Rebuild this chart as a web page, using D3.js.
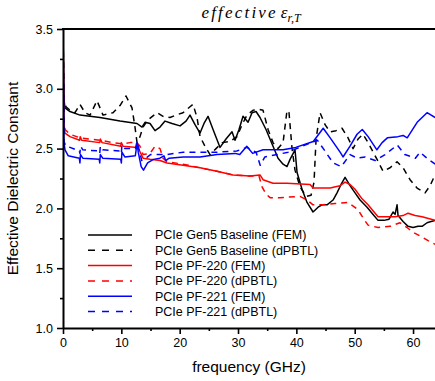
<!DOCTYPE html>
<html>
<head>
<meta charset="utf-8">
<title>effective er,T</title>
<script src="https://d3js.org/d3.v7.min.js"></script>
<style>
  html, body { margin: 0; padding: 0; background: #fff; }
  svg { display: block; }
  .tick text { font-family: "Liberation Sans", Arial, sans-serif; font-size: 12.5px; fill: #000; }
</style>
</head>
<body>
<div id="chart"></div>
<script>
// --- data: [frequency GHz, effective Dk]
const gen5Fem = [[0,3.5],[0.17,2.91],[0.34,2.84],[1.2,2.81],[2.91,2.78],[6.34,2.76],[9.77,2.73],[12.69,2.71],[13.54,2.68],[14.06,2.72],[14.92,2.71],[15.77,2.65],[16.63,2.68],[17.49,2.73],[18.69,2.71],[20.06,2.69],[21.09,2.73],[21.77,2.78],[22.63,2.70],[23.49,2.63],[24.17,2.71],[24.86,2.77],[25.72,2.66],[26.92,2.51],[27.94,2.58],[28.97,2.64],[29.49,2.57],[30.17,2.66],[30.86,2.77],[31.72,2.72],[32.4,2.80],[33.09,2.81],[33.77,2.76],[34.8,2.66],[36.0,2.52],[36.86,2.42],[37.72,2.37],[38.4,2.35],[38.92,2.41],[39.77,2.49],[40.12,2.30],[40.97,2.16],[41.83,2.05],[42.86,1.97],[43.72,2.01],[44.4,2.03],[45.26,2.03],[46.29,2.07],[46.97,2.13],[47.66,2.20],[48.35,2.26],[49.2,2.19],[50.06,2.13],[50.92,2.07],[52.12,2.01],[52.97,1.96],[54.0,1.90],[55.03,1.90],[55.89,1.91],[56.57,1.97],[56.92,1.95],[57.26,2.03],[57.43,1.94],[58.29,1.89],[59.15,1.85],[60.0,1.84],[60.86,1.85],[61.55,1.85],[62.4,1.88],[63.09,1.89],[63.77,1.90]];

const gen5Dpbtl = [[0,3.5],[0.17,2.91],[0.51,2.85],[1.2,2.82],[2.06,2.80],[2.91,2.87],[3.77,2.80],[4.63,2.78],[5.83,2.90],[6.86,2.78],[7.71,2.79],[8.57,2.80],[9.77,2.86],[10.8,2.94],[11.83,2.84],[12.34,2.68],[12.69,2.55],[13.2,2.60],[13.72,2.68],[14.57,2.74],[16.12,2.80],[17.14,2.77],[18.34,2.76],[19.37,2.78],[20.57,2.80],[21.77,2.85],[22.29,2.87],[22.97,2.76],[23.49,2.60],[24.34,2.52],[25.2,2.45],[26.23,2.50],[27.26,2.55],[28.63,2.56],[29.83,2.60],[30.69,2.70],[31.54,2.78],[32.57,2.82],[33.43,2.83],[34.29,2.82],[35.15,2.66],[36.0,2.55],[36.86,2.50],[37.72,2.55],[38.4,2.82],[38.74,2.80],[39.26,2.50],[39.77,2.32],[40.63,2.18],[41.66,2.10],[42.52,2.11],[43.03,2.22],[43.38,2.58],[44.06,2.80],[44.92,2.70],[45.78,2.64],[46.8,2.65],[47.83,2.67],[48.86,2.59],[49.72,2.50],[50.57,2.58],[51.43,2.62],[52.29,2.55],[53.83,2.41],[54.86,2.31],[56.06,2.34],[57.26,2.39],[58.29,2.34],[59.49,2.24],[60.69,2.17],[62.06,2.13],[62.92,2.19],[63.77,2.28]];

const pf220Fem = [[0,3.5],[0.17,2.70],[0.34,2.63],[1.2,2.60],[2.85,2.57],[2.95,2.60],[3.2,2.57],[6.3,2.55],[6.4,2.58],[6.7,2.55],[9.9,2.52],[10.0,2.55],[10.3,2.52],[12.69,2.51],[13.03,2.49],[13.72,2.42],[14.92,2.41],[16.63,2.40],[17.83,2.38],[20.57,2.36],[23.49,2.34],[26.4,2.31],[29.14,2.28],[32.06,2.27],[33.77,2.28],[34.29,2.24],[36.0,2.21],[38.4,2.21],[42.35,2.20],[42.86,2.17],[45.78,2.17],[47.49,2.19],[48.35,2.22],[49.2,2.20],[50.06,2.16],[51.26,2.08],[52.29,2.03],[53.14,1.98],[54.0,1.93],[55.55,1.93],[56.92,1.93],[58.29,1.94],[59.15,1.96],[60.35,1.94],[61.55,1.93],[63.77,1.90]];

const pf220Dpbtl = [[0,3.5],[0.17,2.72],[0.34,2.66],[1.2,2.62],[2.91,2.59],[6.34,2.57],[8.57,2.55],[10.29,2.54],[11.49,2.55],[12.69,2.55],[13.2,2.52],[13.72,2.45],[14.92,2.46],[15.77,2.52],[16.63,2.50],[17.14,2.42],[17.83,2.39],[20.57,2.37],[23.49,2.34],[26.4,2.31],[29.14,2.28],[32.06,2.27],[33.6,2.27],[34.12,2.18],[34.8,2.12],[35.49,2.09],[37.2,2.09],[40.63,2.10],[41.83,2.07],[42.86,2.03],[44.57,2.03],[46.63,2.04],[48.86,2.05],[50.57,1.99],[51.43,1.92],[52.29,1.86],[54.0,1.84],[56.06,1.85],[57.77,1.88],[58.97,1.84],[60.0,1.80],[61.55,1.76],[62.58,1.73],[63.77,1.70]];

const pf221Fem = [[0,3.5],[0.17,2.55],[0.34,2.49],[0.9,2.44],[2.8,2.42],[2.9,2.38],[3.0,2.45],[3.4,2.42],[6.2,2.41],[6.3,2.38],[6.4,2.45],[6.8,2.42],[9.9,2.41],[10.0,2.38],[10.1,2.47],[10.6,2.43],[12.4,2.44],[12.7,2.55],[12.9,2.47],[13.4,2.35],[13.8,2.32],[14.5,2.38],[15.5,2.41],[16.6,2.42],[17.3,2.44],[17.6,2.40],[18.2,2.42],[20.6,2.43],[23.5,2.43],[26.4,2.45],[29.5,2.46],[30.3,2.45],[31.5,2.52],[32.5,2.46],[34.3,2.49],[37.7,2.49],[39.9,2.51],[42.9,2.56],[44.6,2.67],[45.8,2.59],[47.5,2.47],[48.0,2.43],[49.2,2.52],[50.4,2.62],[51.3,2.66],[52.3,2.60],[53.8,2.49],[54.7,2.55],[55.6,2.59],[57.4,2.60],[58.3,2.61],[59.0,2.59],[60.7,2.72],[62.4,2.80],[63.8,2.76]];

const pf221Dpbtl = [[0,3.5],[0.17,2.56],[0.5,2.52],[1.2,2.51],[2.8,2.48],[2.9,2.46],[3.0,2.52],[3.4,2.49],[6.2,2.48],[6.3,2.46],[6.4,2.52],[6.8,2.49],[9.9,2.48],[10.0,2.46],[10.1,2.53],[10.6,2.50],[12.4,2.50],[12.7,2.56],[13.0,2.50],[13.5,2.40],[14.2,2.42],[15.0,2.45],[17.8,2.45],[20.6,2.47],[26.4,2.47],[29.8,2.48],[31.5,2.51],[33.1,2.47],[33.8,2.36],[34.6,2.43],[36.7,2.45],[38.6,2.47],[41.0,2.52],[43.6,2.57],[44.9,2.48],[46.3,2.38],[47.7,2.35],[49.2,2.45],[50.4,2.42],[51.8,2.43],[53.5,2.40],[55.2,2.45],[57.3,2.53],[58.6,2.45],[60.4,2.42],[61.2,2.47],[62.6,2.41],[63.8,2.37]];

const seriesNames = ["PCIe Gen5 Baseline (FEM)", "PCIe Gen5 Baseline (dPBTL)", "PCIe PF-220 (FEM)", "PCIe PF-220 (dPBTL)", "PCIe PF-221 (FEM)", "PCIe PF-221 (dPBTL)"];
const seriesData = [gen5Fem, gen5Dpbtl, pf220Fem, pf220Dpbtl, pf221Fem, pf221Dpbtl];
const seriesColors = ["#000000", "#000000", "#ff0000", "#ff0000", "#0000ff", "#0000ff"];
const seriesDashed = [false, true, false, true, false, true];

const xTicks = [0, 10, 20, 30, 40, 50, 60];
const xMinorTicks = [5, 15, 25, 35, 45, 55];
const yTicks = [1.0, 1.5, 2.0, 2.5, 3.0, 3.5];
const yMinorTicks = [1.25, 1.75, 2.25, 2.75, 3.25];

// --- layout
const W = 435, H = 381;
const plotL = 63, plotT = 29, plotB = 328, plotR = 439;
const font = "'Liberation Sans', Arial, sans-serif";

const svg = d3.select("#chart").append("svg")
  .attr("width", W).attr("height", H);

const x = d3.scaleLinear().domain([0, 64.45]).range([plotL, plotR]);
const y = d3.scaleLinear().domain([1.0, 3.5]).range([plotB, plotT]);

svg.append("clipPath").attr("id", "plotClip")
  .append("rect")
  .attr("x", plotL).attr("y", plotT)
  .attr("width", plotR - plotL).attr("height", plotB - plotT);

// lines
const line = d3.line().x(d => x(d[0])).y(d => y(d[1]));
const plot = svg.append("g").attr("clip-path", "url(#plotClip)");
seriesData.forEach((data, i) => {
  plot.append("path")
    .datum(data)
    .attr("fill", "none")
    .attr("stroke", seriesColors[i])
    .attr("stroke-width", 1.5)
    .attr("stroke-linejoin", "round")
    .attr("stroke-dasharray", seriesDashed[i] ? "6,5" : null)
    .attr("d", line);
});

// axes
function styleAxis(g) {
  g.selectAll(".domain").attr("stroke", "#000").attr("stroke-width", 2);
  g.selectAll(".tick line").attr("stroke", "#000").attr("stroke-width", 1.6);
}

svg.append("g")
  .attr("transform", `translate(0,${plotB})`)
  .call(d3.axisBottom(x).tickValues(xMinorTicks).tickSize(3).tickSizeOuter(0).tickFormat(""))
  .call(styleAxis)
  .call(g => g.select(".domain").remove());

svg.append("g")
  .attr("transform", `translate(0,${plotB})`)
  .call(d3.axisBottom(x).tickValues(xTicks).tickSize(6).tickSizeOuter(0).tickPadding(4).tickFormat(d3.format("d")))
  .call(styleAxis);

svg.append("g")
  .attr("transform", `translate(${plotL},0)`)
  .call(d3.axisLeft(y).tickValues(yMinorTicks).tickSize(3).tickSizeOuter(0).tickFormat(""))
  .call(styleAxis)
  .call(g => g.select(".domain").remove());

svg.append("g")
  .attr("transform", `translate(${plotL},0)`)
  .call(d3.axisLeft(y).tickValues(yTicks).tickSize(6).tickSizeOuter(0).tickPadding(4).tickFormat(d3.format(".1f")))
  .call(styleAxis);

// top and right frame
svg.append("line")
  .attr("x1", plotL - 1).attr("x2", plotR)
  .attr("y1", plotT).attr("y2", plotT)
  .attr("stroke", "#000").attr("stroke-width", 2);
svg.append("line")
  .attr("x1", plotR).attr("x2", plotR)
  .attr("y1", plotT).attr("y2", plotB)
  .attr("stroke", "#000").attr("stroke-width", 2);

// axis titles
svg.append("text")
  .attr("x", (plotL + plotR) / 2 - 2)
  .attr("y", 372)
  .attr("text-anchor", "middle")
  .style("font-family", font)
  .style("font-size", "15.5px")
  .text("frequency (GHz)");

svg.append("text")
  .attr("transform", `translate(18,${(plotT + plotB) / 2}) rotate(-90)`)
  .attr("text-anchor", "middle")
  .style("font-family", font)
  .style("font-size", "15.5px")
  .text("Effective Dielectric Constant");

// chart title (math style)
const title = svg.append("text")
  .attr("x", 251).attr("y", 18)
  .attr("text-anchor", "middle")
  .style("font-family", "'Liberation Serif', 'DejaVu Serif', serif")
  .style("font-style", "italic")
  .style("font-size", "17px");
title.append("tspan").style("letter-spacing", "2.2px").text("effective");
title.append("tspan").attr("dx", 3).text("ε");
title.append("tspan").attr("dy", 4).style("font-size", "12px").text("r,T");

// legend
const legend = svg.append("g");
seriesNames.forEach((name, i) => {
  const ly = 235 + i * 15.3;
  legend.append("line")
    .attr("x1", 88).attr("x2", 132)
    .attr("y1", ly).attr("y2", ly)
    .attr("stroke", seriesColors[i])
    .attr("stroke-width", 1.5)
    .attr("stroke-dasharray", seriesDashed[i] ? "7,7" : null);
  legend.append("text")
    .attr("x", 155).attr("y", ly)
    .attr("dy", "0.35em")
    .style("font-family", font)
    .style("font-size", "12.5px")
    .text(name);
});
</script>
</body>
</html>
